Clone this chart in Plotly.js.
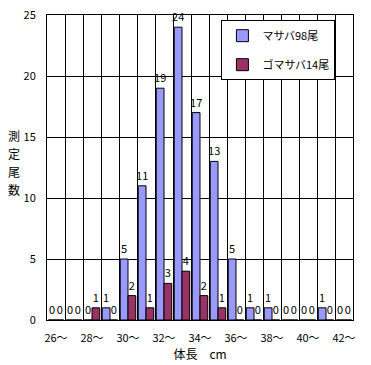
<!DOCTYPE html>
<html>
<head>
<meta charset="utf-8">
<script src="https://cdn.plot.ly/plotly-3.0.1.min.js"></script>
<style>html,body{margin:0;padding:0;background:#fff;}#chart{width:371px;height:365px;}</style>
</head>
<body>
<div id="chart"></div>
<script>
const categories = [26,27,28,29,30,31,32,33,34,35,36,37,38,39,40,41,42];
const masaba   = [0,0,0,1,5,11,19,24,17,13,5,1,1,0,0,1,0];
const gomasaba = [0,0,1,0,2,1,3,4,2,1,0,0,0,0,0,0,0];
const tickPositions = [26,28,30,32,34,36,38,40,42];
const tickLabels = ['26〜','28〜','30〜','32〜','34〜','36〜','38〜','40〜','42〜'];
const seriesNames = ['マサバ98尾','ゴマサバ14尾'];
const yTitle = '測定尾数';
const xTitle = '体長　cm';

const FONT = 'Noto Sans CJK JP, sans-serif';
function mk(vals, name, color, grp){
  return {
    type:'bar', x:categories, y:vals, name:name,
    marker:{color:color, line:{color:'#000', width:1}},
    text:vals.map(String), textposition:'outside', constraintext:'none',
    textfont:{family:FONT, size:11, color:'#000'}, cliponaxis:false,
    legendgroup:grp, hoverinfo:'none'
  };
}
const data = [mk(masaba, seriesNames[0], '#9999FF','a'), mk(gomasaba, seriesNames[1], '#993366','b')];

// vertical (stacked) y title, one annotation per character
const yChars = yTitle.split('');
const titleAnns = yChars.map((ch, i) => ({
  xref:'paper', yref:'paper', x:-0.108, y:0.605, yshift:-18*i,
  xanchor:'center', yanchor:'middle', text:ch, showarrow:false, borderpad:0,
  font:{family:FONT, size:12}
}));

const layout = {
  width:371, height:365,
  margin:{l:47, r:18, t:15, b:45},
  paper_bgcolor:'#fff', plot_bgcolor:'#fff',
  font:{family:FONT, size:11, color:'#000'},
  barmode:'group', bargap:0.14, bargroupgap:0,
  xaxis:{range:[categories[0]-0.5, categories[categories.length-1]+0.5],
         tickmode:'array', tickvals:tickPositions, ticktext:tickLabels, showgrid:false,
         minor:{tickmode:'linear', tick0:categories[0]-0.5, dtick:1, showgrid:true, gridcolor:'#000', gridwidth:1, ticks:''},
         ticks:'', showline:true, linecolor:'#000', linewidth:1, mirror:true, zeroline:false, fixedrange:true,
         tickfont:{family:FONT, size:11}, ticklabelstandoff:8,
         title:{text:xTitle, font:{family:FONT, size:12}, standoff:0}},
  yaxis:{range:[0,25], tickmode:'linear', tick0:0, dtick:5, showgrid:true, gridcolor:'#000', gridwidth:1,
         ticks:'', showline:true, linecolor:'#000', linewidth:1, mirror:true, zeroline:true, zerolinecolor:'#000',
         tickfont:{family:FONT, size:11}, ticklabelstandoff:8, fixedrange:true},
  legend:{x:0.57, y:0.983, xanchor:'left', yanchor:'top', bgcolor:'#fff', bordercolor:'#000', borderwidth:1,
          font:{family:FONT, size:11}, traceorder:'grouped', tracegroupgap:10, itemwidth:30},
  annotations:titleAnns,
  showlegend:true
};
Plotly.newPlot('chart', data, layout, {staticPlot:true, displayModeBar:false});
</script>
</body>
</html>
